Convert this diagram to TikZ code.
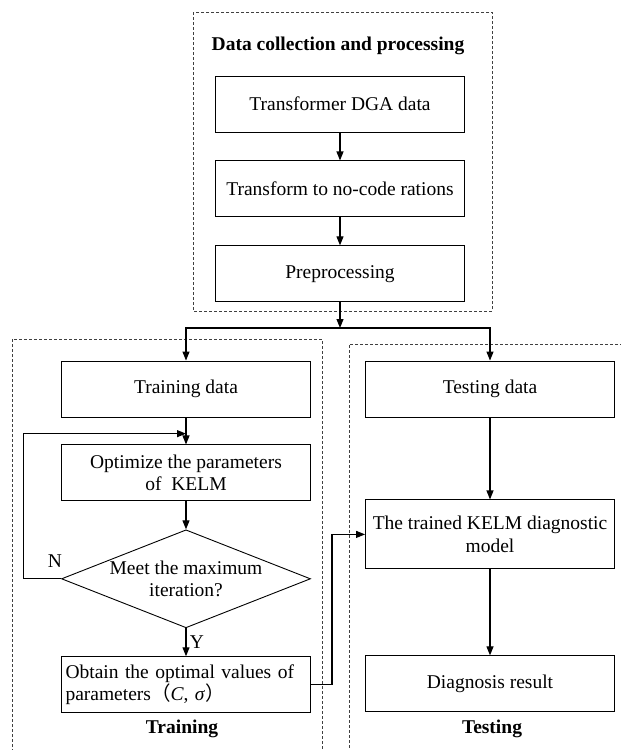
\documentclass[tikz,border=0pt]{standalone}
\usepackage{fontspec}
\setmainfont{Liberation Serif}
\newfontfamily\cjk{Noto Sans CJK SC}
\usetikzlibrary{arrows.meta,calc,positioning,shapes.geometric}

\tikzset{
  stagebox/.style={draw,line width=0.9pt,minimum width=249pt,minimum height=56pt,
                   inner sep=4pt,align=center},
  framebox/.style={draw=black!75,line width=0.8pt,dash pattern=on 3pt off 2pt},
  flow/.style={->,line width=1.1pt}
}

\begin{document}
\begin{tikzpicture}[x=1pt,y=-1pt,>={Triangle[length=9pt,width=7pt]},
                    font=\fontsize{19.5}{22.5}\selectfont,node distance=28pt]
\useasboundingbox (0,0) rectangle (621,750);

            % data collection and processing

            \node[stagebox]                  (dga)   at (340,104)      {Transformer DGA data};

            \node[stagebox]                  (ratio) [below=of dga]    {Transform to no-code rations};

            \node[stagebox]                  (prep)  [below=of ratio]  {Preprocessing};

            \node[font=\fontsize{19.5}{22.5}\selectfont\bfseries] (datahead) at (338,46) {Data collection and processing};

            % training

            \node[stagebox]                  (train) at (186,389)      {Training data};

            \node[stagebox]                  (opt)   [below=27pt of train] {Optimize the parameters\\of \ KELM};

            \node[draw,line width=0.9pt,diamond,minimum width=249pt,minimum height=98pt,inner sep=0pt,
                  label={[align=center]center:Meet the maximum\\iteration?}]
                                             (meet)  [below=of opt]    {};

            \node[stagebox,align=left,text width=241pt]
                                             (best)  [below=of meet]   {Obtain the optimal values of\\parameters{\cjk（}\textit{C}, \textit{σ}{\cjk）}};

            \node[font=\fontsize{19.5}{22.5}\selectfont\bfseries] (trainhead) at (182,729) {Training};

            % testing

            \node[stagebox]                  (test)  at (490,389)      {Testing data};

            \node[stagebox,minimum height=69pt] (kelm) [below=82pt of test] {The trained KELM diagnostic\\model};

            \node[stagebox]                  (result) [below=86pt of kelm] {Diagnosis result};

            \node[font=\fontsize{19.5}{22.5}\selectfont\bfseries] (testhead) at (492,729) {Testing};

            % frames

            \draw[framebox] (193,12) rectangle (492,311);

            \draw[framebox] (12,752) |- (322,339) -- (322,752);

            \draw[framebox] (623,344) -| (349,752);

            % connectors

            \coordinate (split) at (340,328);

            \coordinate (join)  at ($(train.south)!0.6!(opt.north)$);

            \draw[flow] (dga) -- (ratio);

            \draw[flow] (ratio) -- (prep);

            \draw[flow] (prep) -- (split);

            \draw[flow] (split) -| (train);

            \draw[flow] (split) -| (test);

            \draw[flow] (train) -- (opt);

            \draw[flow] (opt) -- (meet);

            \draw[flow] (meet.west) -- ++(-38,0) |- (join);

            \node (nlabel) at (55,561) {N};

            \draw[flow] (meet) -- node[right] (ylabel) {Y} (best);

            \draw[flow] (best.east) -- ++(21,0) |- (kelm.west);

            \draw[flow] (test) -- (kelm);

            \draw[flow] (kelm) -- (result);

        \end{tikzpicture}
\end{document}
